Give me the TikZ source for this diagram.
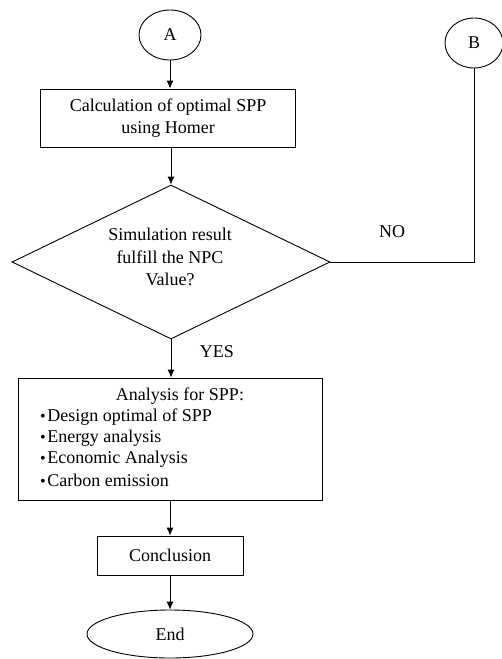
\documentclass[tikz,border=0pt]{standalone}
\usepackage{fontspec}
\setmainfont{Liberation Serif}
\usetikzlibrary{shapes.geometric,arrows.meta}
\begin{document}
\begin{tikzpicture}[x=1pt,y=-1pt,
  every node/.style={font=\fontsize{18}{22.5}\selectfont, inner sep=0pt},
  line/.style={line width=0.9pt, draw=black},
  arr/.style={line width=0.9pt, -{Latex[length=8pt,width=7pt]}},
  box/.style={draw, line width=0.9pt, rectangle},
  oval/.style={draw, line width=0.9pt, ellipse},
  bul/.style={anchor=west}]
\newcommand{\bl}{{\fontsize{16}{16}\selectfont\textbullet}\hspace{1.5pt}}
\useasboundingbox (0,0) rectangle (502,659);
\node[oval, minimum width=62pt, minimum height=50pt] (A) at (170,35) {A};
\node[oval, minimum width=58pt, minimum height=50pt] (B) at (474,43) {B};
\node[box, minimum width=255pt, minimum height=58pt, align=center] (calc) at (168,118)
  {Calculation of optimal SPP\\using Homer};
\node[draw, line width=0.9pt, diamond, shape aspect=2.06, minimum width=318pt, minimum height=154pt] (dec) at (171,262) {};
\node[align=center] (dect) at (170,257) {Simulation result\\fulfill the NPC\\Value?};
\node[box, minimum width=304pt, minimum height=122pt] (ana) at (170,439) {};
\node (anah) at (180,396) {Analysis for SPP:};
\node[bul] (b1) at (40,417) {\bl Design optimal of SPP};
\node[bul] (b2) at (40,438) {\bl Energy analysis};
\node[bul] (b3) at (40,459) {\bl Economic Analysis};
\node[bul] (b4) at (40,480) {\bl Carbon emission};
\node[box, minimum width=146pt, minimum height=39pt] (conc) at (170,555.5) {Conclusion};
\node[oval, minimum width=166pt, minimum height=48pt] (end) at (170,634) {End};
\node (no) at (392,232) {NO};
\node (yes) at (217,352) {YES};
\draw[arr] (A) -- (A |- calc.north);
\draw[arr] (calc.south -| dec.north) -- (dec.north);
\draw[arr] (dec.south) -- (dec.south |- ana.north);
\draw[arr] (ana.south -| conc.north) -- (conc);
\draw[arr] (conc) -- (end);
\draw[line] (dec.east) -| (B.south);
\end{tikzpicture}
\end{document}
